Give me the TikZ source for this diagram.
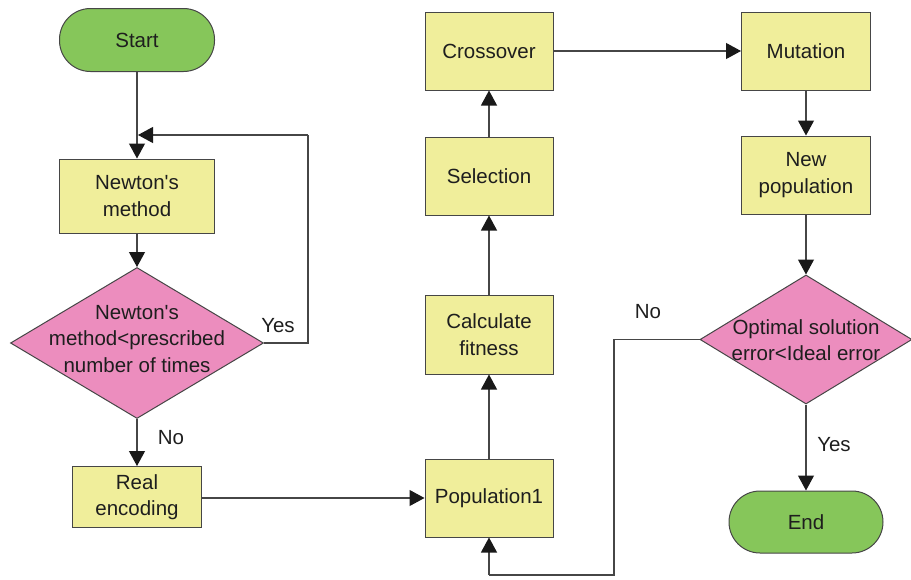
\documentclass[tikz,border=0pt]{standalone}
\usepackage{fontspec}
\setmainfont{Liberation Sans}[Ligatures=TeXOff]
\usetikzlibrary{arrows.meta,shapes.geometric}
\definecolor{termfill}{RGB}{134,198,90}
\definecolor{boxfill}{RGB}{240,238,155}
\definecolor{decfill}{RGB}{236,141,190}
\definecolor{edge}{RGB}{70,70,70}
\definecolor{tipcol}{RGB}{25,25,25}
\definecolor{txt}{RGB}{30,30,30}
\tikzset{
  every node/.style={text=txt, font=\fontsize{20.5}{26.5}\selectfont},
  procbox/.style={draw=edge, line width=1pt, fill=boxfill, rectangle, inner sep=0pt, align=center},
  termbox/.style={draw=edge, line width=1pt, fill=termfill, rectangle, rounded corners=31pt, minimum width=155pt, minimum height=63pt, inner sep=0pt},
  decbox/.style={draw=edge, line width=1pt, fill=decfill, diamond, inner sep=0pt},
  dectext/.style={align=center, inner sep=0pt},
  conn/.style={draw=edge, line width=1.1pt, -{Triangle[length=15pt,width=16pt,fill=tipcol,color=tipcol]}},
  plain/.style={draw=edge, line width=1.1pt},
  lab/.style={inner sep=0pt}
}
\begin{document}
\begin{tikzpicture}[x=1pt,y=-1pt]
\useasboundingbox (0,0) rectangle (911,579);
% left column
\node[termbox] (start) at (137,40) {Start};
\node[procbox, minimum width=155pt, minimum height=74pt] (newton) at (137,196) {Newton's\\method};
\node[decbox, minimum width=253pt, minimum height=151pt] (d1) at (137,343) {};
\node[dectext] (d1t) at (137,339) {Newton's\\method<prescribed\\number of times};
\node[procbox, minimum width=129pt, minimum height=61pt] (real) at (137,497) {Real\\encoding};
% middle column
\node[procbox, minimum width=128pt, minimum height=78pt] (pop) at (489,498) {Population1};
\node[procbox, minimum width=128pt, minimum height=79pt] (fit) at (489,334.5) {Calculate\\fitness};
\node[procbox, minimum width=128pt, minimum height=78pt] (sel) at (489,176) {Selection};
\node[procbox, minimum width=128pt, minimum height=78pt] (cross) at (489,51) {Crossover};
% right column
\node[procbox, minimum width=129pt, minimum height=78pt] (mut) at (806,51) {Mutation};
\node[procbox, minimum width=129pt, minimum height=78pt] (newpop) at (806,175) {New\\population};
\node[decbox, minimum width=212pt, minimum height=129pt] (d2) at (806,339.5) {};
\node[dectext] (d2t) at (806,340) {Optimal solution\\error<Ideal error};
\node[termbox, minimum width=154pt, minimum height=62pt] (end) at (806,522) {End};
% helper coordinates
\coordinate (loopin) at (137,135);
\coordinate (loopr1) at (308,343);
\coordinate (loopr2) at (308,135);
\coordinate (nol1) at (614,339.5);
\coordinate (nol2) at (614,575);
\coordinate (nol3) at (489,575);
% connectors
\draw[conn] (start.south) -- (newton.north);
\draw[conn] (newton.south) -- (d1.north);
\draw[conn] (d1.south) -- (real.north);
\draw[plain] (d1.east) -- (loopr1) -- (loopr2);
\draw[conn] (loopr2) -- ([xshift=1pt]loopin);
\draw[conn] (real.east |- pop.west) -- (pop.west);
\draw[conn] (pop.north) -- (fit.south);
\draw[conn] (fit.north) -- (sel.south);
\draw[conn] (sel.north) -- (cross.south);
\draw[conn] (cross.east) -- (mut.west);
\draw[conn] (mut.south) -- (newpop.north);
\draw[conn] (newpop.south) -- (d2.north);
\draw[conn] (d2.south) -- (end.north);
\draw[plain] (d2.west) -- (nol1) -- (nol2) -- (nol3);
\draw[conn] (nol3) -- (pop.south);
% labels
\node[lab] (yes1) at (278,326) {Yes};
\node[lab] (no1) at (171,438) {No};
\node[lab] (no2) at (648,312) {No};
\node[lab] (yes2) at (834,445) {Yes};
\end{tikzpicture}
\end{document}
